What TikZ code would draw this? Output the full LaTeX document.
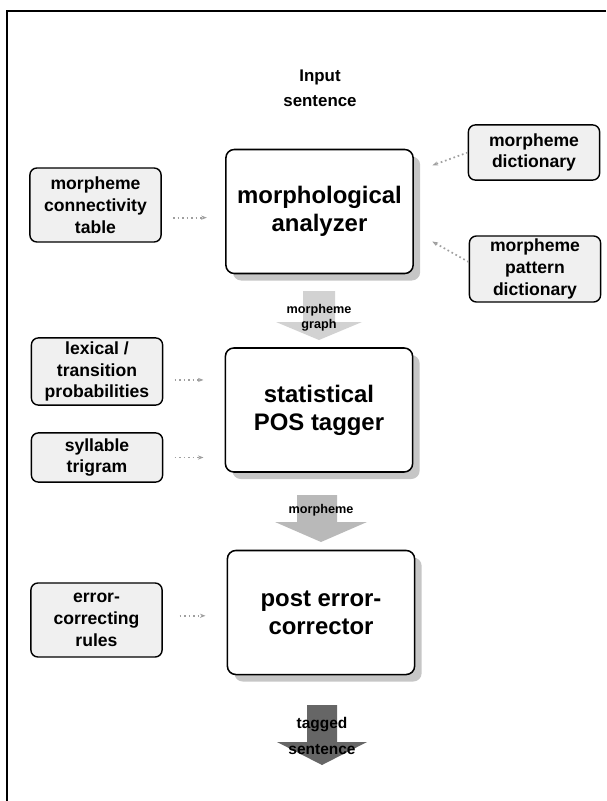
\documentclass[tikz,border=0pt]{standalone}
\usepackage{fontspec}
\setmainfont{Liberation Sans}
\usetikzlibrary{shadows,arrows.meta}

\begin{document}
\begin{tikzpicture}[x=0.025cm,y=-0.025cm,
  stage/.style={draw,line width=1.1pt,rounded corners=6pt,fill=white,
    minimum width=4.68cm,minimum height=3.1cm,align=center,
    font=\bfseries\fontsize{17}{20}\selectfont,
    drop shadow={shadow xshift=5pt,shadow yshift=-5pt,fill=gray!45,opacity=1}},
  source/.style={draw,line width=1pt,rounded corners=5pt,fill=gray!12,
    minimum width=3.28cm,align=center,inner sep=2pt,
    font=\bfseries\fontsize{12.5}{15.5}\selectfont},
  feed/.style={gray!75,dotted,line width=1.2pt,-{Stealth[length=4pt]}},
  flowlabel/.style={font=\bfseries\fontsize{9}{10.5}\selectfont,align=center,inner sep=0pt}]
\useasboundingbox (0,0) rectangle (606,801);
\draw[line width=1.2pt] (606,11) -- (7,11) -- (7,801);

% main stages
\node[font=\bfseries\fontsize{12}{18}\selectfont,align=center] (inp) at (320,88) {Input\\sentence};
\node[stage] (ana) at (319.5,211.5) {morphological\\analyzer};
\node[stage] (tag) at (319,410) {statistical\\POS tagger};
\node[stage] (cor) at (321,612.5) {post error-\\corrector};

% knowledge sources
\node[source,minimum height=1.85cm] (con) at (95.5,205) {morpheme\\connectivity\\table};
\node[source,minimum height=1.38cm] (dic) at (534,152.5) {morpheme\\dictionary};
\node[source,minimum height=1.65cm] (pat) at (535,269) {morpheme\\pattern\\dictionary};
\node[source,minimum height=1.68cm] (lex) at (97,371.5) {lexical /\\transition\\probabilities};
\node[source,minimum height=1.23cm] (syl) at (97,457.5) {syllable\\trigram};
\node[source,minimum height=1.85cm] (rul) at (96.5,620) {error-\\correcting\\rules};

\draw[feed,shorten <=8pt,shorten >=13pt] ([yshift=-9pt]con.east) -- ([yshift=-9pt]con.east -| ana.west);
\draw[feed,shorten >=14pt] (dic.west) -- ([yshift=28pt]ana.east);
\draw[feed,shorten >=15pt] ([yshift=5pt]pat.west) -- ([yshift=-14pt]ana.east);
\draw[feed,shorten <=8pt,shorten >=15pt] ([yshift=-6pt]lex.east) -- ([yshift=-6pt]lex.east -| tag.west);
\draw[feed,shorten <=8pt,shorten >=15pt] (syl.east) -- (syl.east -| tag.west);
\draw[feed,shorten <=12pt,shorten >=15pt] ([yshift=3pt]rul.east) -- ([yshift=3pt]rul.east -| cor.west);

% block arrows between stages
\fill[gray!35] (303,291) -- (335,291) -- (335,322) -- (362,322) -- (319,340) -- (276,322) -- (303,322) -- cycle;
\node[flowlabel] (mg) at (319,318) {morpheme\\graph};
\fill[gray!55] (297,495) -- (337,495) -- (337,522) -- (367,522) -- (321,542) -- (275,522) -- (297,522) -- cycle;
\node[flowlabel] (ms) at (321,510) {morpheme};
\fill[black!60] (307,705) -- (337,705) -- (337,742) -- (367,742) -- (322,765) -- (277,742) -- (307,742) -- cycle;
\node[flowlabel,font=\bfseries\fontsize{11}{19}\selectfont] (ts) at (322,736) {tagged\\sentence};
\end{tikzpicture}
\end{document}
